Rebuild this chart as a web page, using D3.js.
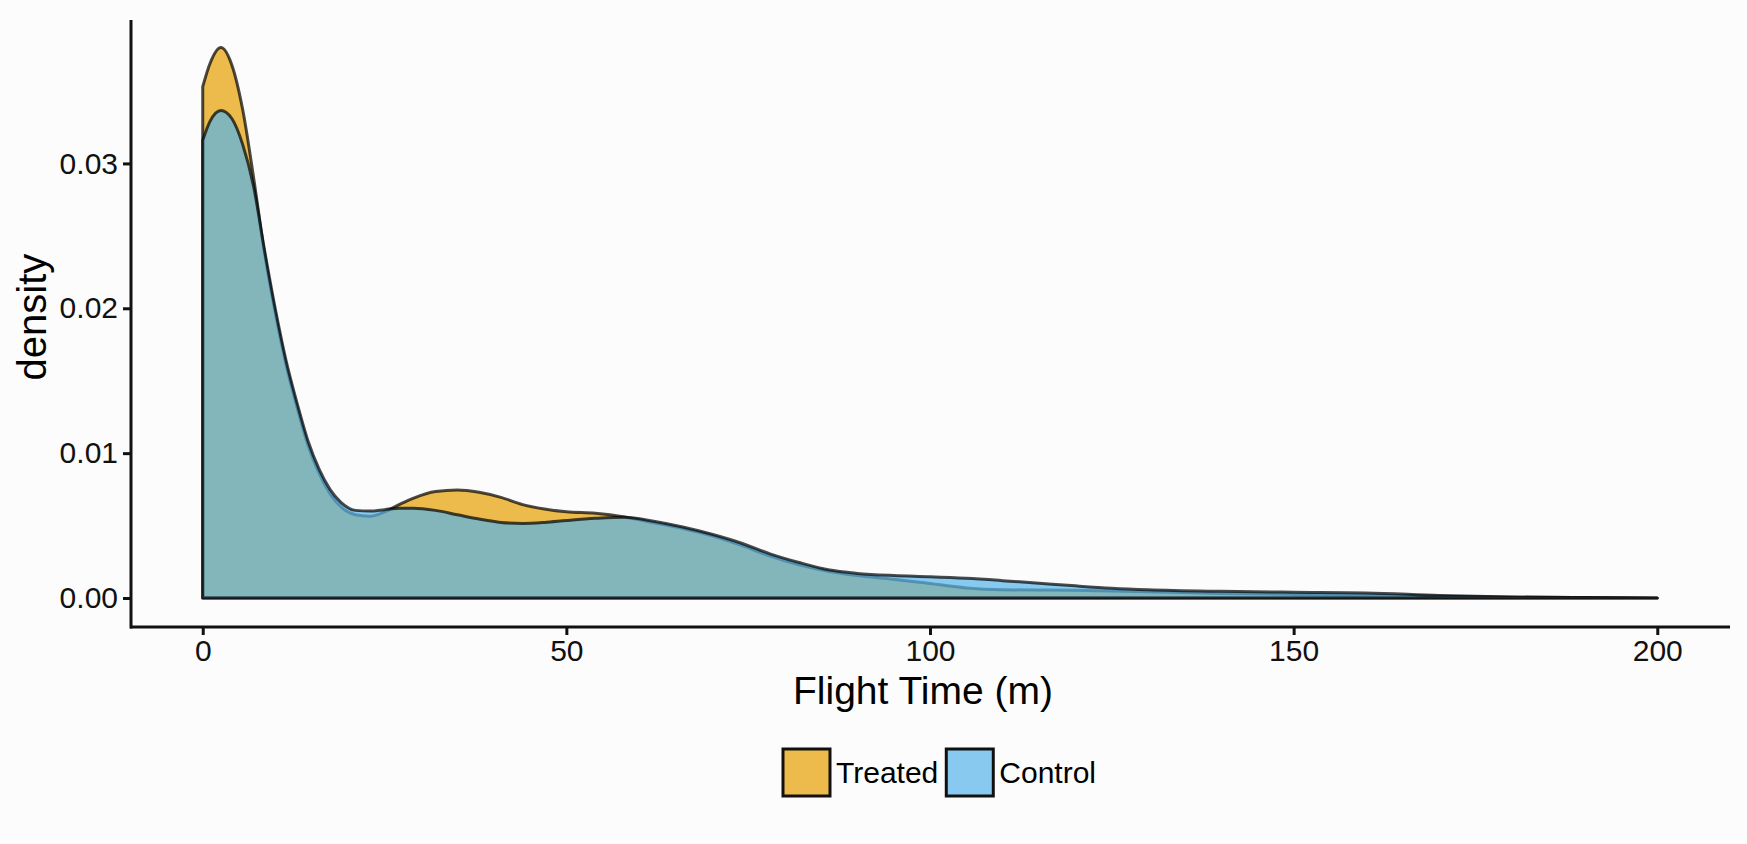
<!DOCTYPE html>
<html>
<head>
<meta charset="utf-8">
<script src="https://cdn.jsdelivr.net/npm/d3@7"></script>
<style>
  html, body { margin: 0; padding: 0; background: #fcfcfc; }
  svg { display: block; font-family: "Liberation Sans", Arial, Helvetica, sans-serif; }
</style>
</head>
<body>
<svg id="chart" width="1747" height="844"></svg>
<script>
// ---- data ----
const flightTime = [0,1,2.5,4,5.5,7,8.5,10,11.5,13,14.5,16,17.5,19,21,23,25,27,29,32,35,38,41,44,47,50,54,58,62,66,70,74,78,82,86,90,95,100,105,110,115,120,125,130,140,150,160,170,180,190,200];
const treatedDensity = [0.0353,0.0369,0.0380,0.0368,0.0337,0.0290,0.0238,0.0196,0.0160,0.0131,0.0105,0.0086,0.0072,0.0063,0.00575,0.00565,0.00595,0.00645,0.0069,0.00735,0.00746,0.0073,0.00695,0.00645,0.00615,0.00595,0.00585,0.0056,0.0052,0.0048,0.0043,0.00365,0.0029,0.0023,0.00185,0.00155,0.0013,0.0010,0.0007,0.00057,0.00055,0.00053,0.00049,0.00044,0.00032,0.00025,0.0002,0.00012,0.00006,0.00003,0.00001];
const controlDensity = [0.0316,0.0329,0.03365,0.0331,0.0313,0.0284,0.0240,0.0199,0.0163,0.0134,0.0108,0.0089,0.0075,0.0066,0.00605,0.0060,0.0061,0.0062,0.0062,0.00605,0.00575,0.00545,0.00522,0.00515,0.00522,0.00535,0.0055,0.00558,0.0053,0.0049,0.0044,0.0038,0.00305,0.00245,0.00195,0.0017,0.00155,0.00147,0.00136,0.0012,0.00102,0.00084,0.00068,0.00057,0.00046,0.0004,0.00035,0.00018,0.00007,0.00003,0.00001];
const seriesNames = ["Treated", "Control"];
const seriesColors = ["#E69F00", "#56B4E9"];
const xTicks = [0, 50, 100, 150, 200];
const xTickLabels = ["0", "50", "100", "150", "200"];
const yTicks = [0, 0.01, 0.02, 0.03];
const yTickLabels = ["0.00", "0.01", "0.02", "0.03"];
const xTitle = "Flight Time (m)";
const yTitle = "density";

// ---- layout ----
const svg = d3.select("#chart");
const W = 1747, H = 844;
svg.append("rect").attr("width", W).attr("height", H).attr("fill", "#fcfcfc");

const x = d3.scaleLinear().domain([-10, 210]).range([130, 1730]);
const y = d3.scaleLinear().domain([-0.002, 0.0399]).range([627, 20]);

const series = [treatedDensity, controlDensity].map((vals, i) => ({
  name: seriesNames[i],
  color: seriesColors[i],
  points: flightTime.map((t, j) => ({ t, d: vals[j] }))
}));

const area = d3.area()
  .x(p => x(p.t))
  .y0(y(0))
  .y1(p => y(p.d))
  .curve(d3.curveMonotoneX);

const gData = svg.append("g");
series.forEach(s => {
  gData.append("path")
    .datum(s.points)
    .attr("d", area)
    .attr("fill", s.color)
    .attr("fill-opacity", 0.7)
    .attr("stroke", "#000")
    .attr("stroke-opacity", 0.7)
    .attr("stroke-width", 3)
    .attr("stroke-linejoin", "round");
});

// ---- axes ----
const axisColor = "#111";
const xAxis = d3.axisBottom(x)
  .tickValues(xTicks)
  .tickFormat((d, i) => xTickLabels[i])
  .tickSizeInner(8).tickSizeOuter(0).tickPadding(5);
const gx = svg.append("g").attr("transform", `translate(0,${y.range()[0]})`).call(xAxis);

const yAxis = d3.axisLeft(y)
  .tickValues(yTicks)
  .tickFormat((d, i) => yTickLabels[i])
  .tickSizeInner(8).tickSizeOuter(0).tickPadding(5);
const gy = svg.append("g").attr("transform", `translate(${x.range()[0] + 1},0)`).call(yAxis);

[gx, gy].forEach(g => {
  g.select(".domain").attr("stroke", axisColor).attr("stroke-width", 3);
  g.selectAll(".tick line").attr("stroke", axisColor).attr("stroke-width", 3);
  g.selectAll(".tick text").attr("fill", axisColor).style("font-size", "30px")
    .style("font-family", "'Liberation Sans', Arial, sans-serif");
});
gx.select(".domain").attr("d", `M${x.range()[0]},0H${x.range()[1]}`);
gy.select(".domain").attr("d", `M0,${y.range()[1]}V${y.range()[0] + 1.5}`);

// ---- titles ----
svg.append("text")
  .attr("x", 923).attr("y", 704)
  .attr("text-anchor", "middle")
  .attr("fill", "#000")
  .style("font-size", "39px")
  .text(xTitle);

svg.append("text")
  .attr("transform", `translate(46,317) rotate(-90)`)
  .attr("text-anchor", "middle")
  .attr("fill", "#000")
  .style("font-size", "40px")
  .text(yTitle);

// ---- legend ----
const gLeg = svg.append("g");
let lx = 783;
const keySize = 47, keyTop = 749;
series.forEach(s => {
  gLeg.append("rect")
    .attr("x", lx).attr("y", keyTop)
    .attr("width", keySize).attr("height", keySize)
    .attr("fill", s.color).attr("fill-opacity", 0.7)
    .attr("stroke", "#111").attr("stroke-width", 3);
  const t = gLeg.append("text")
    .attr("x", lx + keySize + 6).attr("y", 783)
    .attr("fill", "#000")
    .style("font-size", "30px")
    .text(s.name);
  lx = lx + keySize + 6 + t.node().getComputedTextLength() + 8;
});
</script>
</body>
</html>
